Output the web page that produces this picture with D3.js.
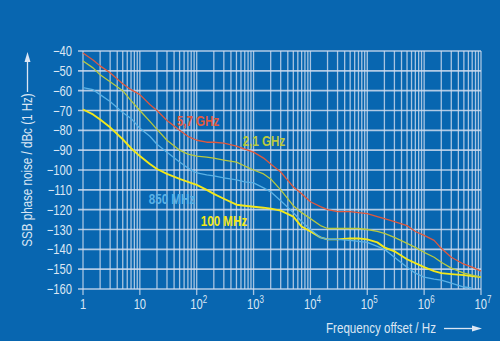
<!DOCTYPE html>
<html><head><meta charset="utf-8">
<script src="https://cdn.jsdelivr.net/npm/d3@7"></script>
<style>
html,body{margin:0;padding:0;background:#0866b0;}
svg{display:block;font-family:"Liberation Sans",Arial,sans-serif;}
</style></head><body>
<script>
const freqs = [1,1.5,2,3,5,7,10,15,20,30,50,70,100,150,200,300,500,700,1e3,1.5e3,2e3,3e3,5e3,7e3,1e4,1.5e4,2e4,3e4,5e4,7e4,1e5,1.5e5,2e5,3e5,5e5,7e5,1e6,1.5e6,2e6,3e6,5e6,7e6,1e7];
const red57 = [-41,-44.5,-47.5,-51,-56.5,-59.5,-62,-67,-70,-75,-80,-83,-85,-86,-86,-86.5,-88,-89.5,-91,-94,-97,-101,-108.5,-112,-116,-118.5,-120,-121,-121,-121.5,-122,-123.5,-124.5,-126,-128,-131,-133,-135.5,-139.5,-144,-147.5,-149,-151];
const green21 = [-45,-48.5,-52,-55.5,-60,-65,-70,-75.5,-79.5,-85,-90,-92,-93,-93.5,-94,-95,-96,-98,-100,-102,-104.5,-110,-118,-121.5,-124.5,-128,-129.5,-129.5,-129.5,-129.5,-130,-131,-132,-134,-137,-139,-141.5,-144,-146.5,-149.5,-152,-153,-154];
const blue850 = [-58.5,-59.5,-62,-65.5,-71,-74,-79,-83,-87,-91,-96,-99,-101.5,-102.5,-103,-104,-105,-106,-106.5,-109,-111,-115.5,-121.5,-126,-130,-134,-135,-135,-135.5,-136,-136.5,-138.5,-140,-144,-149,-152,-154,-155,-155.5,-157,-159,-159.5,null];
const yellow100 = [-69.5,-72,-74.5,-78.5,-84.5,-89,-93,-97,-99.5,-102,-104.5,-106,-107.5,-110,-112,-114.5,-117.5,-118,-118.5,-119,-119.5,-120.5,-123.5,-128.5,-131,-134,-135,-135,-134.5,-134.5,-135,-136.5,-139,-141,-145,-147,-149,-151,-152,-152.5,-153,-153.5,-154];
const seriesNames = ["5,7 GHz","2,1 GHz","850 MHz","100 MHz"];
const yTicks = [-40,-50,-60,-70,-80,-90,-100,-110,-120,-130,-140,-150,-160];
const xTickExp = [0,1,2,3,4,5,6,7];

const W=500,H=341, SX=0.8;
const svg=d3.select("body").append("svg").attr("width",W).attr("height",H);
svg.append("rect").attr("width",W).attr("height",H).attr("fill","#0866b0");
const x=d3.scaleLog().domain([1,1e7]).range([83,481]);
const y=d3.scaleLinear().domain([-40,-160]).range([51,289]);
const gridCol="#cfdcee";
const txtCol="#dbe6f4";
function ntext(g,px,py,rot){
  return g.append("text").attr("transform",`translate(${px},${py})`+(rot?` rotate(${rot})`:"")+` scale(${SX},1)`);
}

// vertical grid
const vg=[];
for(let k=0;k<7;k++){for(let m=1;m<10;m++)vg.push(m*Math.pow(10,k));}
vg.push(1e7);
svg.append("g").selectAll("line").data(vg).join("line")
 .attr("x1",d=>x(d)).attr("x2",d=>x(d)).attr("y1",y(-40)).attr("y2",d=>{const e=Math.log10(d);return Math.abs(e-Math.round(e))<1e-9?295:289;})
 .attr("stroke",gridCol).attr("stroke-opacity",0.8).attr("stroke-width",1.3);
// horizontal grid
svg.append("g").selectAll("line").data(yTicks).join("line")
 .attr("x1",78).attr("x2",481).attr("y1",d=>y(d)).attr("y2",d=>y(d))
 .attr("stroke",gridCol).attr("stroke-opacity",0.85).attr("stroke-width",1.6);

// y tick labels
const yg=svg.append("g");
yTicks.forEach(d=>{
  ntext(yg,72,y(d)+5).attr("text-anchor","end").attr("fill",txtCol).attr("font-size",14).text("\u2212"+Math.abs(d));
});
// x tick labels
const xt=svg.append("g");
xTickExp.forEach(e=>{
  const t=ntext(xt,x(Math.pow(10,e))+(e>=2?2:0),309).attr("text-anchor","middle")
   .attr("fill",txtCol).attr("font-size",14);
  if(e===0)t.text("1");else if(e===1)t.text("10");
  else{t.append("tspan").text("10");t.append("tspan").attr("dy",-6).attr("font-size",10).text(e);}
});

// curves
const cols=["#e2593c","#b9c940","#5ab2e6","#f3e81a"];
const data=[red57,green21,blue850,yellow100];
const widths=[1.3,1.3,1.3,1.9];
const line=d3.line().defined(d=>d[1]!==null).x(d=>x(d[0])).y(d=>y(d[1])).curve(d3.curveLinear);
[3,2,1,0].forEach(i=>{
  svg.append("path").datum(freqs.map((f,j)=>[f,data[i][j]]))
   .attr("d",line).attr("fill","none").attr("stroke",cols[i]).attr("stroke-width",widths[i]).attr("stroke-linejoin","round");
});

// series labels
const lab=[[198,126],[264,146],[172,204],[224,226]];
const lg=svg.append("g");
seriesNames.forEach((n,i)=>{
  ntext(lg,lab[i][0],lab[i][1]).attr("text-anchor","middle")
   .attr("font-size",14.5).attr("font-weight","bold").attr("fill",cols[i]).text(n);
});

// axis titles
ntext(svg,32,170,-90).attr("text-anchor","middle").attr("fill",txtCol).attr("font-size",14.5).text("SSB phase noise / dBc (1 Hz)");
ntext(svg,436,333).attr("text-anchor","end").attr("fill",txtCol).attr("font-size",14.5).text("Frequency offset / Hz");
// arrows
svg.append("line").attr("x1",27.5).attr("x2",27.5).attr("y1",92).attr("y2",60).attr("stroke",txtCol).attr("stroke-width",1.3);
svg.append("path").attr("d","M27.5,52 L24.5,62 L30.5,62 Z").attr("fill",txtCol);
svg.append("line").attr("x1",444).attr("x2",474).attr("y1",328.5).attr("y2",328.5).attr("stroke",txtCol).attr("stroke-width",1.3);
svg.append("path").attr("d","M482,328.5 L472,325.5 L472,331.5 Z").attr("fill",txtCol);
</script>
</body></html>
